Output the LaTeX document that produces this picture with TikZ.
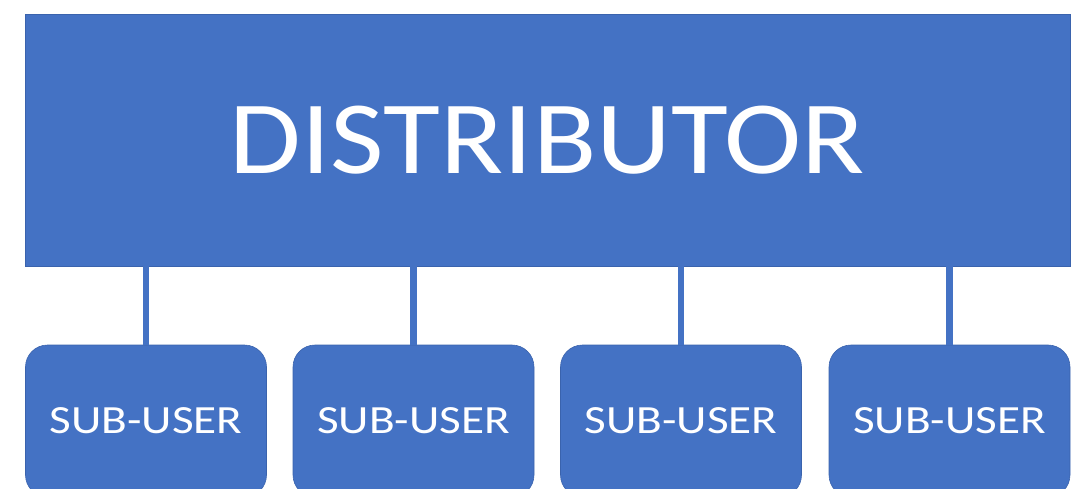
\documentclass[tikz,border=0pt]{standalone}
\usepackage{fontspec}
\setmainfont{Carlito}
\newfontfamily\titlefont[FakeStretch=1.12]{Carlito}
\newfontfamily\userfont[FakeStretch=1.18]{Carlito}
\usepackage{tikz}
\definecolor{officeblue}{HTML}{4472C4}
\definecolor{officeedge}{HTML}{3A63AD}

\begin{document}
\begin{tikzpicture}[x=1pt, y=-1pt,
  mainbox/.style={rectangle, fill=officeblue, draw=officeedge, line width=0.6pt,
    minimum width=1045pt, minimum height=252pt, inner sep=0pt,
    text=white, font=\titlefont\fontsize{104}{104}\selectfont},
  userbox/.style={rectangle, rounded corners=22pt, fill=officeblue, draw=officeedge,
    line width=0.6pt, minimum width=241pt, minimum height=152pt, inner sep=0pt,
    text=white, font=\userfont\fontsize{40}{40}\selectfont},
  link/.style={draw=officeblue, line width=6.5pt}]
  \useasboundingbox (0,0) rectangle (1075,489);
  \clip (0,0) rectangle (1075,489);
  \node[mainbox] (dist) at (547.5,140) {DISTRIBUTOR};
  \node[userbox] (u1) at (146,421) {SUB-USER};
  \node[userbox] (u2) at (413.5,421) {SUB-USER};
  \node[userbox] (u3) at (681,421) {SUB-USER};
  \node[userbox] (u4) at (949.5,421) {SUB-USER};
  \foreach \u in {u1,u2,u3,u4}
    \draw[link] (\u.north) -- (\u.north |- dist.south);
\end{tikzpicture}
\end{document}
